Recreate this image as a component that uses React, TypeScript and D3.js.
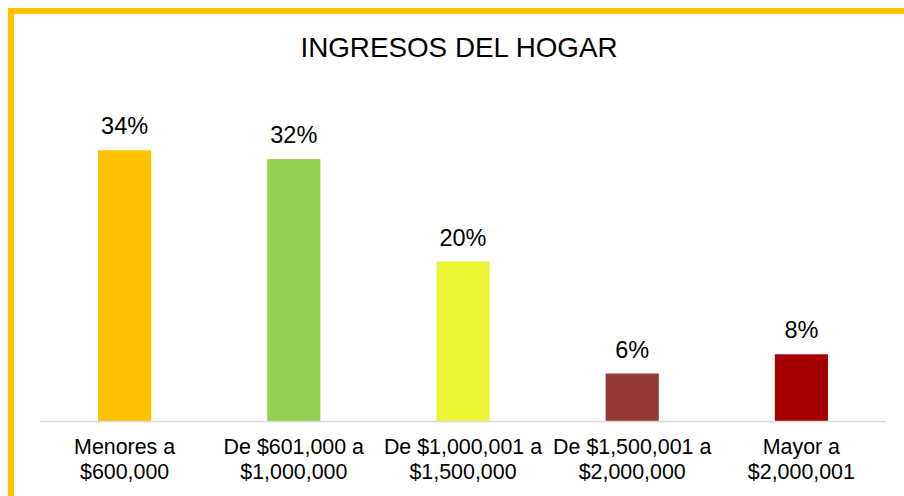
import React from "react";
import * as d3 from "d3";

const categories: string[][] = [
  ["Menores a", "$600,000"],
  ["De $601,000 a", "$1,000,000"],
  ["De $1,000,001 a", "$1,500,000"],
  ["De $1,500,001 a", "$2,000,000"],
  ["Mayor a", "$2,000,001"],
];
const values: number[] = [33.9, 32.8, 20.0, 6.0, 8.4];
const valueLabels: string[] = ["34%", "32%", "20%", "6%", "8%"];
const colors: string[] = ["#FFC000", "#92D050", "#EAF633", "#953735", "#A50000"];
const title = "INGRESOS DEL HOGAR";

const W = 904;
const H = 496;
const plotLeft = 40;
const plotRight = 886;
const baseY = 421.5;
const font = "'Liberation Sans', Arial, sans-serif";

export default function App() {
  const x = d3
    .scaleBand<number>()
    .domain(values.map((_, i) => i))
    .range([plotLeft, plotRight])
    .paddingInner(0.686)
    .paddingOuter(0.343);
  const y = d3.scaleLinear().domain([0, 40]).range([baseY, baseY - 320]);

  return (
    <svg
      width={W}
      height={H}
      style={{ position: "absolute", left: 0, top: 0, background: "#fff" }}
    >
      <rect x={11} y={11} width={2000} height={2000} fill="#fff" stroke="#FFC000" strokeWidth={6} />
      <text x={459} y={57} textAnchor="middle" fontFamily={font} fontSize={27.8} fill="#000">
        {title}
      </text>
      {values.map((v, i) => {
        const bx = x(i)!;
        const bw = x.bandwidth();
        const cx = bx + bw / 2;
        return (
          <g key={i}>
            <rect x={bx} y={y(v)} width={bw} height={baseY - y(v)} fill={colors[i]} />
            <text
              x={cx}
              y={y(v) - 16}
              textAnchor="middle"
              fontFamily={font}
              fontSize={23.5}
              fill="#000"
            >
              {valueLabels[i]}
            </text>
            {categories[i].map((line, j) => (
              <text
                key={j}
                x={cx}
                y={454 + j * 25}
                textAnchor="middle"
                fontFamily={font}
                fontSize={21.4}
                fill="#000"
              >
                {line}
              </text>
            ))}
          </g>
        );
      })}
      <line x1={plotLeft} x2={plotRight} y1={baseY} y2={baseY} stroke="#D9D9D9" strokeWidth={1.5} />
    </svg>
  );
}
